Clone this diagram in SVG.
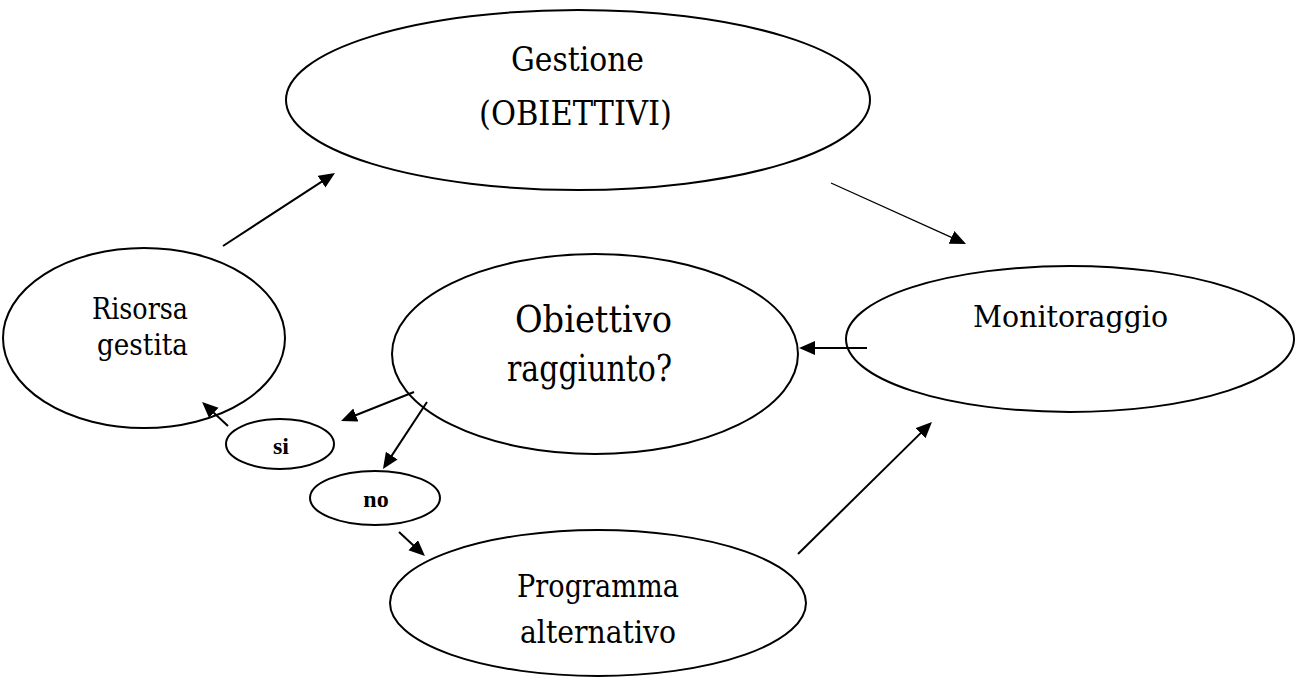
<svg xmlns="http://www.w3.org/2000/svg" width="1300" height="677" viewBox="0 0 1300 677">
<style>
.node{fill:#fff;stroke:#000;stroke-width:2}
.t{font-family:"DejaVu Serif","Liberation Serif",serif;fill:#000}
.lab{font-family:"Liberation Serif","Times New Roman",serif;font-weight:bold;font-size:24px;fill:#000;text-anchor:middle}
.c{stroke:#000;stroke-width:2;fill:none}
.thin{stroke-width:1.3}
</style>
<defs>
<marker id="ah" markerUnits="userSpaceOnUse" markerWidth="18" markerHeight="16" refX="3" refY="7" orient="auto">
<path d="M0,0 L16,7 L0,14 z" fill="#000"/>
</marker>
</defs>
<rect width="1300" height="677" fill="#fff"/>
<g id="gestione">
<ellipse class="node" cx="578" cy="100" rx="292" ry="90"/>
<text class="t" x="511" y="71" font-size="33" textLength="133" lengthAdjust="spacingAndGlyphs">Gestione</text>
<text class="t" x="479" y="125" font-size="33" textLength="193" lengthAdjust="spacingAndGlyphs">(OBIETTIVI)</text>
</g>
<g id="risorsa">
<ellipse class="node" cx="144" cy="338" rx="141" ry="90"/>
<text class="t" x="92" y="319" font-size="29" textLength="96" lengthAdjust="spacingAndGlyphs">Risorsa</text>
<text class="t" x="97" y="355" font-size="29" textLength="91" lengthAdjust="spacingAndGlyphs">gestita</text>
</g>
<g id="obiettivo">
<ellipse class="node" cx="595" cy="354" rx="203" ry="100"/>
<text class="t" x="515" y="332" font-size="37" textLength="157" lengthAdjust="spacingAndGlyphs">Obiettivo</text>
<text class="t" x="507" y="381" font-size="37" textLength="165" lengthAdjust="spacingAndGlyphs">raggiunto?</text>
</g>
<g id="monitoraggio">
<ellipse class="node" cx="1070" cy="339" rx="224" ry="73"/>
<text class="t" x="973" y="327" font-size="30" textLength="195" lengthAdjust="spacingAndGlyphs">Monitoraggio</text>
</g>
<g id="programma">
<ellipse class="node" cx="598" cy="603" rx="208" ry="73"/>
<text class="t" x="517" y="597" font-size="31" textLength="162" lengthAdjust="spacingAndGlyphs">Programma</text>
<text class="t" x="520" y="643" font-size="31" textLength="156" lengthAdjust="spacingAndGlyphs">alternativo</text>
</g>
<g id="si">
<ellipse class="node" cx="280" cy="444" rx="54" ry="25"/>
<text class="lab" x="281" y="454">si</text>
</g>
<g id="no">
<ellipse class="node" cx="375" cy="498" rx="65" ry="27"/>
<text class="lab" x="376" y="507">no</text>
</g>
<g id="connectors">
<line class="c" x1="223" y1="246" x2="324.1" y2="180.1" marker-end="url(#ah)"/>
<line class="c thin" x1="831" y1="183" x2="954.2" y2="238.6" marker-end="url(#ah)"/>
<line class="c" x1="867" y1="348" x2="812" y2="348" marker-end="url(#ah)"/>
<line class="c" x1="798" y1="554" x2="922.7" y2="431.1" marker-end="url(#ah)"/>
<line class="c" x1="414" y1="392" x2="353.1" y2="416.2" marker-end="url(#ah)"/>
<line class="c" x1="427" y1="402" x2="390.1" y2="458.1" marker-end="url(#ah)"/>
<line class="c" x1="228" y1="426" x2="211.6" y2="410.8" marker-end="url(#ah)"/>
<line class="c" x1="399" y1="532" x2="415.4" y2="547.2" marker-end="url(#ah)"/>
</g>
</svg>
